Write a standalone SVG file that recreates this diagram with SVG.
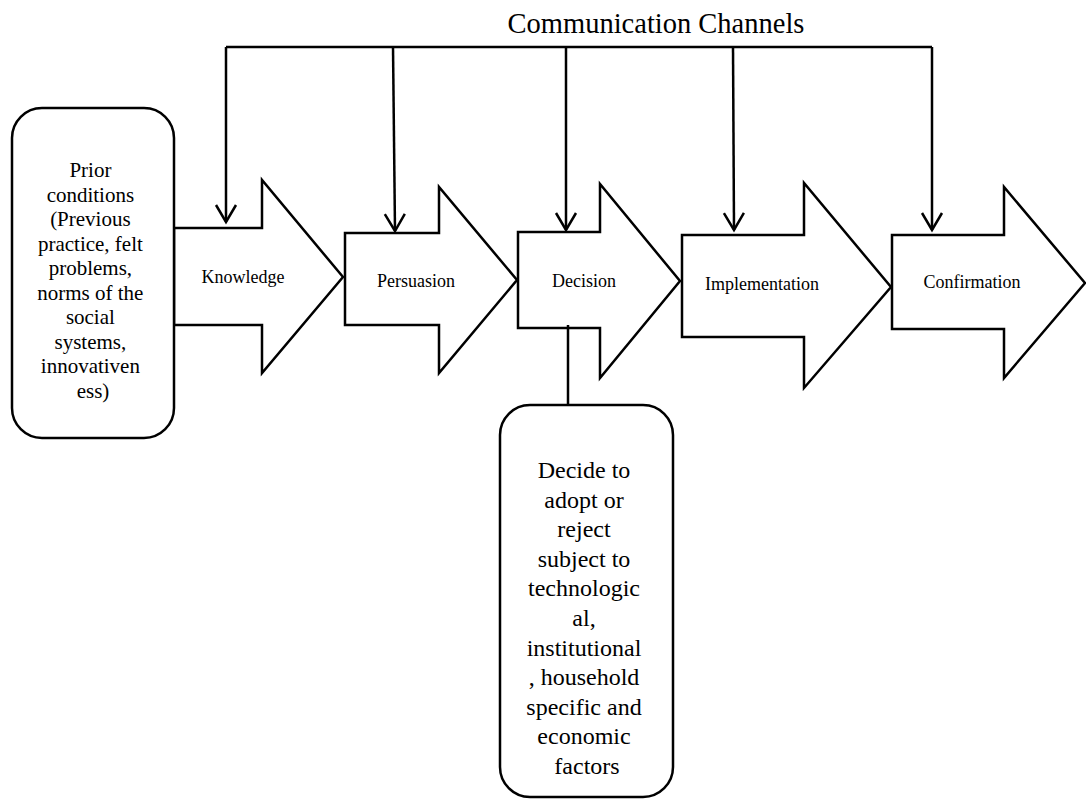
<svg xmlns="http://www.w3.org/2000/svg" width="1086" height="799" viewBox="0 0 1086 799">
<style>
.shape{fill:#fff;stroke:#000;stroke-width:2.5;stroke-linejoin:miter}
.conn{fill:none;stroke:#000;stroke-width:2.5}
.lbl{font-family:"Liberation Serif","Times New Roman",serif;font-size:18px;text-anchor:middle;fill:#000}
.box{font-family:"Liberation Serif","Times New Roman",serif;text-anchor:middle;fill:#000}
.title{font-family:"Liberation Serif","Times New Roman",serif;font-size:28.5px;text-anchor:middle;fill:#000}
</style>
<defs>
<marker id="vhead" markerUnits="userSpaceOnUse" orient="auto" refX="0" refY="0" markerWidth="30" markerHeight="30" overflow="visible">
<path d="M-17,-10 L0,0 L-17,10" fill="none" stroke="#000" stroke-width="2.5"/>
</marker>
</defs>
<rect width="1086" height="799" fill="#fff"/>
<text class="title" x="656" y="33">Communication Channels</text>
<g id="connectors">
<path class="conn" d="M226,47 L932,47"/>
<path class="conn" d="M226,47 L226,222" marker-end="url(#vhead)"/>
<path class="conn" d="M393,47 L395,231" marker-end="url(#vhead)"/>
<path class="conn" d="M566,47 L566,230" marker-end="url(#vhead)"/>
<path class="conn" d="M733,47 L734,230" marker-end="url(#vhead)"/>
<path class="conn" d="M932,47 L932,230" marker-end="url(#vhead)"/>
</g>
<g id="knowledge">
<polygon class="shape" points="174,228 262,228 262,180 343,277 262,373 262,325 174,325"/>
<text class="lbl" x="243" y="283">Knowledge</text>
</g>
<g id="persuasion">
<polygon class="shape" points="345,233 439,233 439,187 517,280 439,373 439,325 345,325"/>
<text class="lbl" x="416" y="287">Persuasion</text>
</g>
<g id="decision">
<polygon class="shape" points="518,232 600,232 600,184 680,281 600,378 600,328 518,328"/>
<text class="lbl" x="584" y="287">Decision</text>
</g>
<g id="implementation">
<polygon class="shape" points="682,235 804,235 804,183 891,287 804,388 804,337 682,337"/>
<text class="lbl" x="762" y="290">Implementation</text>
</g>
<g id="confirmation">
<polygon class="shape" points="892,235 1004,235 1004,187 1085,283 1004,378 1004,329 892,329"/>
<text class="lbl" x="972" y="288">Confirmation</text>
</g>
<g id="decision-link">
<path class="conn" d="M568,325 L568,405"/>
</g>
<g id="prior">
<rect class="shape" x="12" y="108" width="162" height="330" rx="30" ry="30"/>
<text class="box" font-size="21" x="93" y="177">
<tspan x="93" y="177">Prior</tspan>
<tspan x="93" y="201.5">conditions</tspan>
<tspan x="93" y="226">(Previous</tspan>
<tspan x="93" y="250.5">practice, felt</tspan>
<tspan x="93" y="275">problems,</tspan>
<tspan x="93" y="299.5">norms of the</tspan>
<tspan x="93" y="324">social</tspan>
<tspan x="93" y="348.5">systems,</tspan>
<tspan x="93" y="373">innovativen</tspan>
<tspan x="93" y="397.5">ess)</tspan>
</text>
</g>
<g id="decide-box">
<rect class="shape" x="500" y="405" width="173" height="392" rx="30" ry="30"/>
<text class="box" font-size="24" x="587" y="478">
<tspan x="587" y="478">Decide to</tspan>
<tspan x="587" y="507.6">adopt or</tspan>
<tspan x="587" y="537.2">reject</tspan>
<tspan x="587" y="566.8">subject to</tspan>
<tspan x="587" y="596.4">technologic</tspan>
<tspan x="587" y="626">al,</tspan>
<tspan x="587" y="655.6">institutional</tspan>
<tspan x="587" y="685.2">, household</tspan>
<tspan x="587" y="714.8">specific and</tspan>
<tspan x="587" y="744.4">economic</tspan>
<tspan x="587" y="774">factors</tspan>
</text>
</g>
</svg>
